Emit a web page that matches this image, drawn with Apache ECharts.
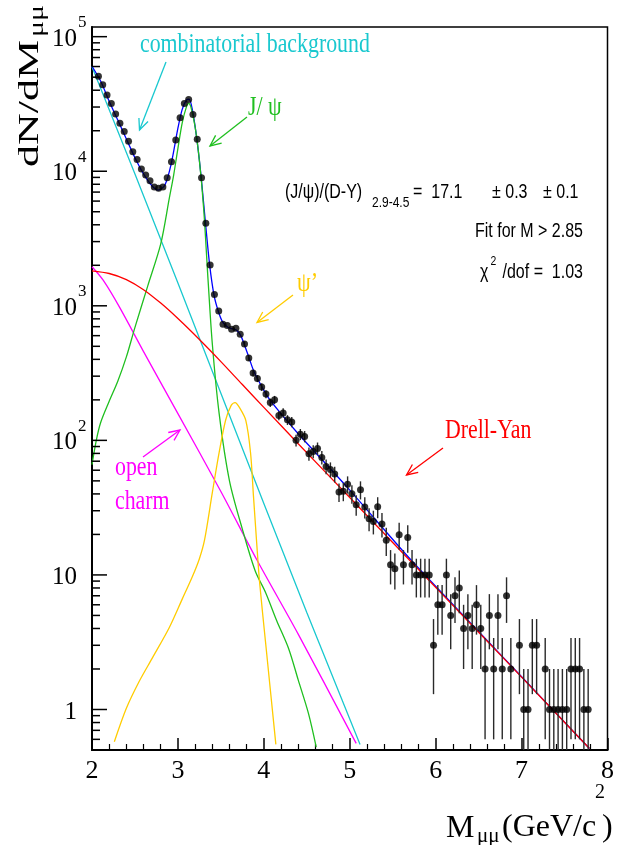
<!DOCTYPE html>
<html><head><meta charset="utf-8">
<script src="https://cdn.jsdelivr.net/npm/echarts/dist/echarts.min.js"></script>
<style>html,body{margin:0;padding:0;background:#fff}#c{width:617px;height:845px}</style>
</head><body><div id="c"></div>
<script>
// ---------------- data ----------------
const massBins = [2.075,2.125,2.175,2.225,2.275,2.325,2.375,2.425,2.475,2.525,2.575,2.625,2.675,2.725,2.775,2.825,2.875,2.925,2.975,3.025,3.075,3.125,3.175,3.225,3.275,3.325,3.375,3.425,3.475,3.525,3.575,3.625,3.675,3.725,3.775,3.825,3.875,3.925,3.975,4.025,4.075,4.125,4.175,4.225,4.275,4.325,4.375,4.425,4.475,4.525,4.575,4.625,4.675,4.725,4.775,4.825,4.875,4.925,4.975,5.025,5.075,5.125,5.175,5.225,5.275,5.325,5.375,5.425,5.475,5.525,5.575,5.625,5.675,5.725,5.775,5.825,5.875,5.925,5.975,6.025,6.075,6.125,6.175,6.225,6.275,6.325,6.375,6.425,6.475,6.525,6.575,6.625,6.675,6.725,6.775,6.825,6.875,6.975,7.025,7.075,7.125,7.175,7.275,7.325,7.375,7.425,7.475,7.525,7.575,7.625,7.675,7.725,7.775];
const dNdM = [50900,43900,36800,31900,26600,22700,19700,16700,13950,12250,10380,9370,8500,7640,7470,7640,8950,11780,17050,24950,31900,34200,26400,17250,8950,4100,2013,1211,916,730,713,670,682,615,521,410,316,288,249,221,191,200,153,160,142,137,100,111,107,79.6,82.8,87.1,74.7,64,60.8,56.2,41.3,41.8,47.1,40.1,33.3,43,32,26.2,25,32.1,23.9,18.1,11.9,11.1,19.9,11.9,19,11.9,10,10,10,10,3,6,6,10,5,7,8,4,5,4,6,4,2,5,2,5,2,7,2,3,1,1,3,3,2,1,1,1,1,1,2,2,2,1,1];
const errBar = [0,0,0,0,0,0,0,0,0,0,0,0,0,0,0,0,0,0,0,0,0,0,0,0,0,0,0,0,0,0,0,0,0,0,23,20,18,17,16,15,14,14,12,13,12,12,10,10.5,10.3,9,9.1,9.3,8.6,8,7.8,7.5,6.4,6.5,6.9,6.3,5.8,6.6,5.7,5.1,5,5.7,4.9,4.3,3.4,3.3,4.5,3.4,4.4,3.4,3.2,3.2,3.2,3.2,1.7,2.4,2.4,3.2,2.2,2.6,2.8,2,2.2,2,2.4,2,1.4,2.2,1.4,2.2,1.4,2.6,1.4,1.7,1,1,1.7,1.7,1.4,1,1,1,1,1,1.4,1.4,1.4,1,1];

const bkgM = [2.0,2.5,3.0,3.5,4.0,4.5,5.0,5.12];
const bkgV = [59700,9550,1479,224,33.9,5.25,0.851,0.55];

const charmM = [2.0,2.13,2.32,2.6,3.0,3.5,3.92,4.4,5.075];
const charmV = [1950,1549,977,457,158,41.7,12.9,3.63,0.56];

const dyM = [2.0,2.2,2.4,2.6,2.8,3.0,3.25,3.5,3.75,4.0,4.4,5.0,5.7,6.5,7.0,7.79];
const dyV = [1820,1738,1567,1318,1047,804,562,385,260,176,94.4,37.6,12.8,3.75,1.74,0.513];

const jpsiM = [2.0,2.05,2.1,2.2,2.3,2.4,2.5,2.65,2.8,2.9,2.95,3.0,3.05,3.1,3.125,3.15,3.2,3.25,3.3,3.35,3.4,3.48,3.6,3.75,3.9,4.02,4.15,4.29,4.4,4.52,4.61];
const jpsiV = [66,100,135,195,275,417,692,1413,2884,6310,9333,14791,22909,30200,31989,30200,21380,12023,5248,1585,525,158,50.1,21.9,10.7,7.41,4.57,2.82,1.66,0.933,0.525];

const psipM = [2.26,2.4,2.55,2.7,2.9,3.05,3.17,3.25,3.31,3.40,3.48,3.555,3.62,3.665,3.72,3.79,3.845,3.88,3.92,3.95,4.02,4.14];
const psipV = [0.575,1.02,1.62,2.40,4.07,6.61,9.77,13.2,18.2,40.7,81.3,141,182,191,174,141,81.3,38.0,16.2,8.91,3.16,0.55];

const totM = [2.0,2.1,2.2,2.3,2.4,2.5,2.6,2.7,2.77,2.85,2.92,3.0,3.05,3.1,3.13,3.17,3.22,3.27,3.32,3.37,3.42,3.47,3.52,3.58,3.63,3.68,3.73,3.78,3.83,3.88,3.95,4.05,4.2,4.4,4.6,5.0,5.7,6.5,7.0,7.79];
const totV = [60256,46774,33113,23988,17378,12589,9550,7762,7244,7943,11220,20893,28840,33884,34277,28184,17378,9120,4169,1995,1202,912,759,692,676,661,603,501,407,331,269,209,158,112,81.3,42.7,13.2,3.80,1.75,0.513];

const yMajorTicks = [1,10,100,1000,10000,100000];
const yTickBase = ['1','10','10','10','10','10'];
const yTickExp = ['','','2','3','4','5'];
const yMinorTicks = [0.6,0.7,0.8,0.9,2,3,4,5,6,7,8,9,20,30,40,50,60,70,80,90,200,300,400,500,600,700,800,900,2000,3000,4000,5000,6000,7000,8000,9000,20000,30000,40000,50000,60000,70000,80000,90000];

// ---------------- chart ----------------
const serif = '"Liberation Serif", "Times New Roman", serif';
const sans = '"Liberation Sans", Arial, sans-serif';
const zip = (a, b) => a.map((v, i) => [v, b[i]]);

function curve(name, m, v, color, smooth, z) {
  return { type: 'line', name, data: zip(m, v), symbol: 'none', showSymbol: false,
    smooth: smooth, lineStyle: { color, width: 1.3 }, z: z || 2, clip: true, silent: true };
}

function arrow(x1, y1, x2, y2, color) {
  const a = Math.atan2(y2 - y1, x2 - x1), L = 12, s = 0.42;
  return { type: 'group', children: [
    { type: 'line', shape: { x1, y1, x2, y2 }, style: { stroke: color, lineWidth: 1.3 } },
    { type: 'polyline', shape: { points: [
      [x2 - L * Math.cos(a - s), y2 - L * Math.sin(a - s)], [x2, y2],
      [x2 - L * Math.cos(a + s), y2 - L * Math.sin(a + s)]] },
      style: { stroke: color, lineWidth: 1.3, fill: null } }
  ]};
}
function txt(text, x, y, size, family, color, opts) {
  opts = opts || {};
  return { type: 'text', x, y, scaleX: opts.sx || 1, scaleY: opts.sy || 1, rotation: opts.rot || 0,
    style: { text, font: size + 'px ' + family, fill: color, align: opts.align || 'left', verticalAlign: 'middle' } };
}

const CYAN = '#19c8cf', GREEN = '#1fbf1f', YELLOW = '#ffcc00', MAG = '#ff00ff', RED = '#ff0000', BLUE = '#0000ff';
const SX = 0.78;

const chart = echarts.init(document.getElementById('c'), null, { renderer: 'canvas', width: 617, height: 845 });
chart.setOption({
  animation: false,
  backgroundColor: '#fff',
  grid: { left: 92, right: 6, top: 27, bottom: 95, show: true, borderColor: '#000', borderWidth: 1.5, backgroundColor: 'transparent' },
  xAxis: {
    type: 'value', min: 2, max: 8, interval: 1,
    axisLine: { lineStyle: { color: '#000', width: 2 } },
    axisTick: { inside: true, length: 12, lineStyle: { color: '#000', width: 1.5 } },
    minorTick: { show: true, splitNumber: 5, length: 6, lineStyle: { color: '#000', width: 1.2 } },
    splitLine: { show: false },
    axisLabel: { fontSize: 26, fontFamily: serif, color: '#000', margin: 8 }
  },
  yAxis: {
    type: 'log', logBase: 10, min: 0.5, max: 118000,
    axisLine: { show: true, lineStyle: { color: '#000', width: 2 } },
    axisTick: { show: false }, axisLabel: { show: false }, splitLine: { show: false }
  },
  series: [
    curve('combinatorial background', bkgM, bkgV, CYAN, false),
    curve('open charm', charmM, charmV, MAG, 0.3),
    curve('total fit', totM, totV, BLUE, 0.3, 2),
    curve('Drell-Yan', dyM, dyV, RED, 0.3, 2.5),
    curve('J/psi', jpsiM, jpsiV, GREEN, 0.3),
    curve("psi'", psipM, psipV, YELLOW, 0.3),
    { type: 'custom', name: 'errors', z: 3, clip: true, silent: true,
      data: massBins.map((m, i) => [m, dNdM[i] - errBar[i], dNdM[i] + errBar[i]]),
      encode: { x: 0, y: [1, 2] },
      renderItem(params, api) {
        const x = api.value(0);
        const p1 = api.coord([x, Math.max(api.value(1), 0.3)]);
        const p2 = api.coord([x, api.value(2)]);
        return { type: 'line', shape: { x1: p1[0], y1: p1[1], x2: p2[0], y2: p2[1] },
          style: { stroke: '#2a2a2a', lineWidth: 1.4 } };
      } },
    { type: 'scatter', name: 'data', z: 4, symbol: 'circle', symbolSize: 7, silent: true,
      itemStyle: { color: '#000' }, data: zip(massBins, dNdM) },
    { type: 'custom', name: 'yticks', z: 5, silent: true,
      data: yMajorTicks.map(v => [2, v, 1]).concat(yMinorTicks.map(v => [2, v, 0])),
      encode: { x: 0, y: 1 },
      renderItem(params, api) {
        const p = api.coord([api.value(0), api.value(1)]);
        const len = api.value(2) ? 15 : 8;
        return { type: 'line', shape: { x1: p[0], y1: p[1], x2: p[0] + len, y2: p[1] },
          style: { stroke: '#000', lineWidth: 1.5 } };
      } },
    { type: 'custom', name: 'ylabels', z: 5, silent: true,
      data: yMajorTicks.map((v, i) => [2, v, i]),
      encode: { x: 0, y: 1 },
      renderItem(params, api) {
        const p = api.coord([api.value(0), api.value(1)]);
        const i = api.value(2);
        const children = [{ type: 'text', x: p[0] - 15, y: p[1] + 2.5,
          style: { text: yTickBase[i], fontSize: 25, fontFamily: serif, fill: '#000', align: 'right', verticalAlign: 'middle' } }];
        if (yTickExp[i]) children.push({ type: 'text', x: p[0] - 14, y: p[1] - 14,
          style: { text: yTickExp[i], fontSize: 17, fontFamily: serif, fill: '#000', align: 'left', verticalAlign: 'middle' } });
        return { type: 'group', children };
      } }
  ],
  graphic: [
    txt('combinatorial background', 140, 45, 28, serif, CYAN, { sx: SX }),
    arrow(166, 62, 139.5, 130, CYAN),
    txt('J/ ψ', 248, 108, 28, serif, GREEN, { sx: SX }),
    arrow(247, 117, 210, 146, GREEN),
    txt('ψ’', 297, 284, 28, serif, YELLOW, { sx: SX }),
    arrow(293, 295, 257, 322.5, YELLOW),
    txt('open', 115, 468, 28, serif, MAG, { sx: SX }),
    txt('charm', 115, 501.5, 28, serif, MAG, { sx: SX }),
    arrow(143, 457, 180, 430, MAG),
    txt('Drell-Yan', 445, 430.5, 28, serif, RED, { sx: SX }),
    arrow(443, 448, 406.5, 475, RED),
    txt('(J/ψ)/(D-Y)', 285, 192, 20, sans, '#000', { sx: 0.8 }),
    txt('2.9-4.5', 372, 203, 15, sans, '#000', { sx: 0.8 }),
    txt('=  17.1', 413, 192, 20, sans, '#000', { sx: 0.8 }),
    txt('± 0.3', 492, 192, 20, sans, '#000', { sx: 0.8 }),
    txt('± 0.1', 543, 192, 20, sans, '#000', { sx: 0.8 }),
    txt('Fit for M > 2.85', 583, 231, 20, sans, '#000', { sx: 0.8, align: 'right' }),
    txt('χ', 480, 272, 20, sans, '#000', { sx: 0.8 }),
    txt('2', 490.5, 261, 13, sans, '#000', { sx: 0.8 }),
    txt('/dof =  1.03', 583, 272, 20, sans, '#000', { sx: 0.8, align: 'right' }),
    // axis titles
    txt('M', 446, 829, 32, serif, '#000'),
    txt('μμ', 477, 836, 21, serif, '#000'),
    txt('(GeV/c', 502, 828, 32, serif, '#000'),
    txt('2', 595, 793, 20, serif, '#000'),
    txt(')', 602, 828, 32, serif, '#000'),
    txt('dN/dM', 30, 167, 44, serif, '#000', { rot: Math.PI / 2, sy: 0.68 }),
    txt('μμ', 38, 37, 30, serif, '#000', { rot: Math.PI / 2, sy: 0.68 })
  ]
});
</script></body></html>
